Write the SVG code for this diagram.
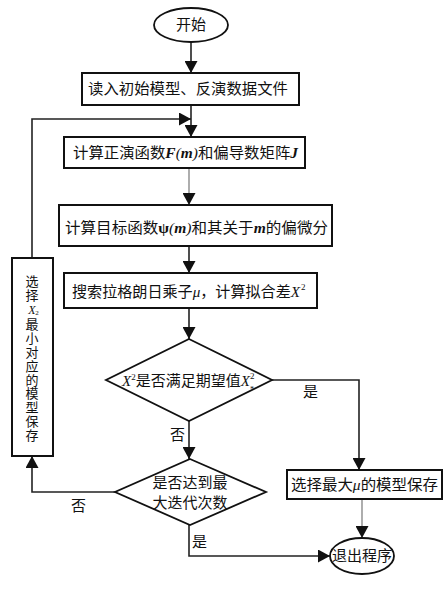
<svg xmlns="http://www.w3.org/2000/svg" width="447" height="593" viewBox="0 0 447 593">
<defs>
<marker id="ah" markerWidth="12" markerHeight="13" viewBox="0 0 12 13" refX="12" refY="6.5" orient="auto" markerUnits="userSpaceOnUse">
<path d="M0,0 L12,6.5 L0,13 Z" fill="#111"/>
</marker>
</defs>
<style>
.box{fill:#fff;stroke:#111;stroke-width:2}
.shape{fill:#fff;stroke:#111;stroke-width:1.8}
.ln{fill:none;stroke:#222;stroke-width:1.6}
.gl{fill:none;stroke:#777;stroke-width:1.2}
.t{font-family:"Noto Sans CJK SC","Noto Sans",sans-serif;font-size:15px;fill:#111}
.v{font-family:"Noto Sans CJK SC","Noto Sans",sans-serif;font-size:13px;fill:#111;writing-mode:vertical-rl;text-orientation:upright;letter-spacing:0.8px}
.lt{font-family:"Liberation Serif",serif;font-style:italic;font-weight:bold}
.li{font-family:"Liberation Serif",serif;font-style:italic}
</style>
<g id="connectors">
<line class="ln" x1="191" y1="42" x2="191" y2="73" marker-end="url(#ah)"/>
<line class="ln" x1="191" y1="105" x2="191" y2="137" marker-end="url(#ah)"/>
<polyline class="ln" points="32,258 32,119 191,119" marker-end="url(#ah)"/>
<line class="gl" x1="189" y1="168" x2="189" y2="205" marker-end="url(#ah)"/>
<line class="ln" x1="189" y1="246" x2="189" y2="273" marker-end="url(#ah)"/>
<line class="ln" x1="189" y1="308" x2="189" y2="339" marker-end="url(#ah)"/>
<polyline class="ln" points="272,380 359,380 359,470" marker-end="url(#ah)"/>
<line class="ln" x1="189" y1="421" x2="189" y2="459" marker-end="url(#ah)"/>
<polyline class="ln" points="115,492 32,492 32,456" marker-end="url(#ah)"/>
<polyline class="ln" points="189,525 189,556 330,556" marker-end="url(#ah)"/>
<line class="gl" x1="362" y1="499" x2="362" y2="538" marker-end="url(#ah)"/>
<text class="t" x="303" y="397">是</text>
<text class="t" x="170" y="440">否</text>
<text class="t" x="71" y="511">否</text>
<text class="t" x="192" y="547">是</text>
</g>
<g id="start">
<ellipse class="shape" cx="191" cy="25" rx="37" ry="17"/>
<text class="t" x="191" y="30" text-anchor="middle">开始</text>
</g>
<g id="read">
<rect class="box" x="82" y="73" width="217" height="32"/>
<text class="t" x="88" y="94" textLength="200" lengthAdjust="spacingAndGlyphs">读入初始模型、反演数据文件</text>
</g>
<g id="forward">
<rect class="box" x="64" y="137" width="241" height="31" stroke-width="2.4"/>
<text class="t" x="73" y="158" textLength="225" lengthAdjust="spacingAndGlyphs">计算正演函数<tspan class="lt">F</tspan><tspan class="li">(</tspan><tspan class="lt">m</tspan><tspan class="li">)</tspan>和偏导数矩阵<tspan class="lt">J</tspan></text>
</g>
<g id="objective">
<rect class="box" x="59" y="205" width="273" height="41" stroke-width="2.4"/>
<text class="t" x="65" y="233" textLength="263" lengthAdjust="spacingAndGlyphs">计算目标函数<tspan font-family="Liberation Serif" font-weight="bold">ψ</tspan><tspan class="li">(</tspan><tspan class="lt">m</tspan><tspan class="li">)</tspan>和其关于<tspan class="lt">m</tspan>的偏微分</text>
</g>
<g id="search">
<rect class="box" x="64" y="273" width="253" height="35"/>
<text class="t" x="72" y="297" textLength="228" lengthAdjust="spacingAndGlyphs">搜索拉格朗日乘子<tspan class="li">μ</tspan>，计算拟合差<tspan class="li">X</tspan></text>
<text x="301" y="290" font-family="Liberation Serif" font-size="9" fill="#111">2</text>
</g>
<g id="check">
<polygon class="shape" points="189,339 272,380 189,421 106,380"/>
<text class="t" x="122" y="386"><tspan class="li">X</tspan><tspan font-family="Liberation Serif" font-size="9" dy="-6">2</tspan><tspan dy="6">是否满足期望值</tspan><tspan class="li">X</tspan></text>
<text x="250" y="379" font-family="Liberation Serif" font-size="9" fill="#111">2</text>
<text x="250" y="392" font-family="Liberation Serif" font-size="8" fill="#111">*</text>
</g>
<g id="maxiter">
<polygon class="shape" points="190,459 266,492 190,525 115,492"/>
<text class="t" x="190" y="488" text-anchor="middle">是否达到最</text>
<text class="t" x="190" y="508" text-anchor="middle">大迭代次数</text>
</g>
<g id="savemin">
<rect class="box" x="12" y="258" width="41" height="198"/>
<text class="v" x="32" y="275">选择<tspan class="li" font-size="12">X</tspan><tspan font-family="Liberation Serif" font-size="7" dx="5" dy="-8">2</tspan><tspan dx="-5">最小对应的模型保存</tspan></text>
</g>
<g id="savemax">
<rect class="box" x="287" y="470" width="155" height="29"/>
<text class="t" x="291" y="490" textLength="147" lengthAdjust="spacingAndGlyphs">选择最大<tspan class="li">μ</tspan>的模型保存</text>
</g>
<g id="exit">
<ellipse class="shape" cx="362" cy="556" rx="32" ry="18"/>
<text class="t" x="362" y="561" text-anchor="middle" textLength="60" lengthAdjust="spacingAndGlyphs">退出程序</text>
</g>
</svg>
